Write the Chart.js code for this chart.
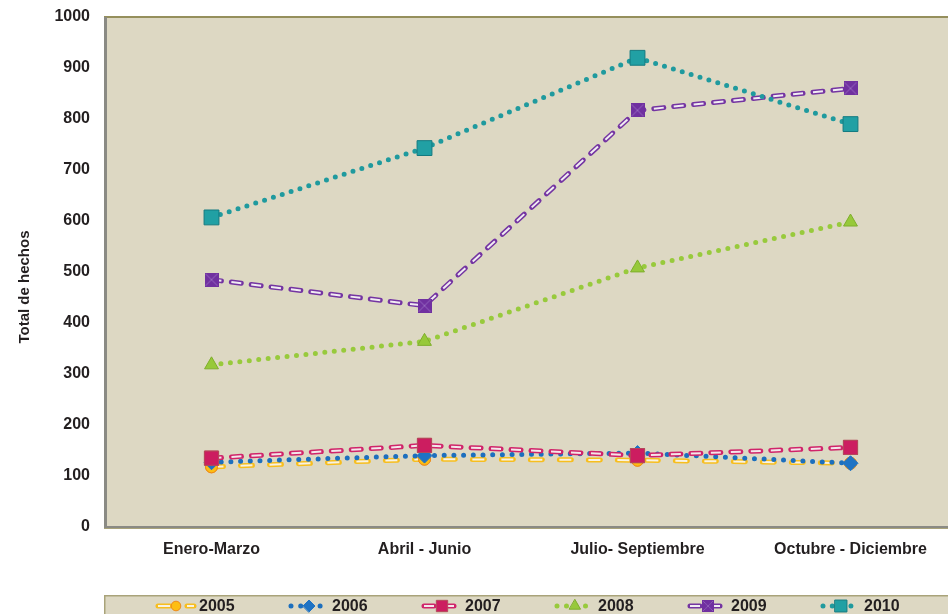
<!DOCTYPE html>
<html>
<head>
<meta charset="utf-8">
<title>Total de hechos por trimestre</title>
<script src="https://cdn.jsdelivr.net/npm/chart.js@4/dist/chart.umd.min.js"></script>
<style>
  html, body { margin: 0; padding: 0; background: #fff; overflow: hidden; }
  #wrap { position: relative; width: 970px; height: 614px; }
</style>
</head>
<body>
<div id="wrap"><canvas id="chart" width="970" height="614"></canvas></div>
<script>
const categories = ['Enero-Marzo', 'Abril - Junio', 'Julio- Septiembre', 'Octubre - Diciembre'];
const years = ['2005', '2006', '2007', '2008', '2009', '2010'];

const hechos2005 = [118, 133, 131, 125];
const hechos2006 = [127, 140, 145, 125];
const hechos2007 = [135, 160, 140, 156];
const hechos2008 = [318, 364, 508, 598];
const hechos2009 = [485, 434, 817, 860];
const hechos2010 = [607, 743, 920, 790];

const yMin = 0;
const yMax = 1000;
const yStep = 100;

const FONT = "'Liberation Sans', Arial, sans-serif";
const PLOT_BG = '#DDD8C3';

// purple square with an X through it
function crossedSquare(size, fill, line) {
  const c = document.createElement('canvas');
  c.width = size; c.height = size;
  const g = c.getContext('2d');
  g.fillStyle = fill;
  g.fillRect(0, 0, size, size);
  g.strokeStyle = line;
  g.lineWidth = 1;
  g.beginPath();
  g.moveTo(1, 1); g.lineTo(size - 1, size - 1);
  g.moveTo(size - 1, 1); g.lineTo(1, size - 1);
  g.stroke();
  return c;
}
const mark2009 = crossedSquare(14, '#7030A0', '#9466BE');

const datasets = [
  {
    label: years[0], data: hechos2005, order: 6,
    borderColor: '#F7BE1E', borderWidth: 5, borderDash: [12, 17], borderCapStyle: 'round',
    innerColor: '#F7F2E4',
    pointStyle: 'circle', pointRadius: 6, pointBackgroundColor: '#FDBE12', pointBorderColor: '#EE8A1A', pointBorderWidth: 1
  },
  {
    label: years[1], data: hechos2006, order: 5,
    borderColor: '#1C6FBE', borderWidth: 5, borderDash: [0, 9.7], borderCapStyle: 'round',
    pointStyle: 'rectRot', pointRadius: 7.5, pointBackgroundColor: '#1F73C4', pointBorderColor: '#1F73C4', pointBorderWidth: 1
  },
  {
    label: years[2], data: hechos2007, order: 4,
    borderColor: '#D0246A', borderWidth: 5, borderDash: [10, 10], borderCapStyle: 'round',
    innerColor: '#F4E6EA',
    pointStyle: 'rect', pointRadius: 10, pointBackgroundColor: '#CC1D60', pointBorderColor: '#B5485A', pointBorderWidth: 1
  },
  {
    label: years[3], data: hechos2008, order: 3,
    borderColor: '#98CA3C', borderWidth: 5, borderDash: [0, 9.5], borderCapStyle: 'round',
    pointStyle: 'triangle', pointRadius: 8, pointBackgroundColor: '#97C93A', pointBorderColor: '#7FAE2C', pointBorderWidth: 1
  },
  {
    label: years[4], data: hechos2009, order: 2,
    borderColor: '#7434A2', borderWidth: 5, borderDash: [10, 10], borderCapStyle: 'round',
    innerColor: '#F1ECF3',
    pointStyle: mark2009, pointRadius: 7, pointBackgroundColor: '#7030A0'
  },
  {
    label: years[5], data: hechos2010, order: 1,
    borderColor: '#1F9A9E', borderWidth: 5, borderDash: [0, 9.3], borderCapStyle: 'round',
    pointStyle: 'rect', pointRadius: 10.5, pointBackgroundColor: '#21A0A4', pointBorderColor: '#137A80', pointBorderWidth: 1
  }
];

datasets.forEach(ds => {
  ds.fill = false;
  ds.tension = 0;
  ds.pointHoverRadius = ds.pointRadius;
});

// shaded plot area with its frame
const plotFrame = {
  id: 'plotFrame',
  beforeDatasetsDraw(chart) {
    const { ctx, chartArea: a } = chart;
    ctx.save();
    ctx.fillStyle = PLOT_BG;
    ctx.fillRect(a.left, a.top, a.right - a.left, a.bottom - a.top);
    ctx.fillStyle = '#958F5C';
    ctx.fillRect(a.left - 1, a.top - 1, a.right - a.left + 2, 2);
    ctx.fillStyle = '#8A8A84';
    ctx.fillRect(a.left - 1, a.top, 3, a.bottom - a.top + 1);
    ctx.fillRect(a.left - 1, a.bottom - 1, a.right - a.left + 2, 2);
    ctx.fillStyle = '#A9A37A';
    ctx.fillRect(a.left - 1, a.bottom + 1, a.right - a.left + 2, 1);
    ctx.restore();
  }
};

// hollow dashes: thin light stroke inside the coloured dash, then markers back on top
const hollowDash = {
  id: 'hollowDash',
  afterDatasetDraw(chart, args) {
    const ds = chart.data.datasets[args.index];
    if (!ds.innerColor) return;
    const { ctx, chartArea: a } = chart;
    const pts = args.meta.data;
    ctx.save();
    ctx.beginPath();
    ctx.rect(a.left, a.top, a.right - a.left, a.bottom - a.top);
    ctx.clip();
    ctx.beginPath();
    pts.forEach((p, i) => (i ? ctx.lineTo(p.x, p.y) : ctx.moveTo(p.x, p.y)));
    ctx.setLineDash(ds.borderDash);
    ctx.lineDashOffset = 0;
    ctx.lineCap = 'butt';
    ctx.lineWidth = 2;
    ctx.strokeStyle = ds.innerColor;
    ctx.stroke();
    ctx.restore();
    pts.forEach(p => p.draw(ctx, a));
  }
};

function drawSample(ctx, ds, cx, cy, half, markerScale) {
  ctx.save();
  ctx.beginPath();
  ctx.moveTo(cx - half, cy);
  ctx.lineTo(cx + half, cy);
  ctx.setLineDash(ds.borderDash);
  ctx.lineCap = ds.borderCapStyle;
  ctx.lineWidth = ds.borderWidth;
  ctx.strokeStyle = ds.borderColor;
  ctx.stroke();
  if (ds.innerColor) {
    ctx.lineCap = 'butt';
    ctx.lineWidth = 2;
    ctx.strokeStyle = ds.innerColor;
    ctx.stroke();
  }
  ctx.setLineDash([]);
  if (typeof ds.pointStyle === 'string') {
    ctx.fillStyle = ds.pointBackgroundColor;
    ctx.strokeStyle = ds.pointBorderColor;
    ctx.lineWidth = ds.pointBorderWidth;
    Chart.helpers.drawPoint(ctx, {
      pointStyle: ds.pointStyle,
      radius: ds.pointRadius * markerScale,
      rotation: 0,
      borderWidth: ds.pointBorderWidth
    }, cx, cy);
  } else {
    const s = ds.pointStyle.width * markerScale;
    ctx.drawImage(ds.pointStyle, cx - s / 2, cy - s / 2, s, s);
  }
  ctx.restore();
}

// boxed legend along the bottom edge, plus the rotated y title
const bottomLegend = {
  id: 'bottomLegend',
  afterDraw(chart) {
    const { ctx, chartArea: a } = chart;
    const boxTop = 595;
    ctx.save();
    ctx.fillStyle = PLOT_BG;
    ctx.fillRect(a.left - 1, boxTop, chart.width, chart.height - boxTop);
    ctx.fillStyle = '#A9A37A';
    ctx.fillRect(a.left - 1, boxTop, chart.width, 1.5);
    ctx.fillRect(a.left - 1, boxTop, 1.5, chart.height - boxTop);

    ctx.font = 'bold 16px ' + FONT;
    ctx.textBaseline = 'middle';
    ctx.textAlign = 'left';
    const cy = 606;
    chart.data.datasets.forEach((ds, i) => {
      const textX = 199 + i * 133;
      drawSample(ctx, ds, textX - 23, cy, 18, 0.8);
      ctx.fillStyle = '#231F20';
      ctx.fillText(ds.label, textX, cy + 1);
    });

    ctx.translate(25, 287);
    ctx.rotate(-Math.PI / 2);
    ctx.textAlign = 'center';
    ctx.font = 'bold 15px ' + FONT;
    ctx.fillStyle = '#231F20';
    ctx.fillText('Total de hechos', 0, 0);
    ctx.restore();
  }
};

new Chart(document.getElementById('chart'), {
  type: 'line',
  data: { labels: categories, datasets },
  options: {
    responsive: false,
    animation: false,
    devicePixelRatio: 1,
    layout: { padding: { top: 17, right: 13, bottom: 27, left: 0 } },
    plugins: {
      legend: { display: false },
      tooltip: { enabled: false }
    },
    scales: {
      x: {
        type: 'category',
        offset: true,
        grid: { display: false, drawTicks: false },
        border: { display: false },
        ticks: { padding: 13, color: '#231F20', font: { family: FONT, size: 16, weight: 'bold' }, maxRotation: 0, autoSkip: false },
        afterFit(scale) {
          scale.height = 60;
          scale.paddingLeft = 0;
          scale.paddingRight = 0;
        }
      },
      y: {
        min: yMin,
        max: yMax,
        grid: { display: false, drawTicks: false },
        border: { display: false },
        ticks: {
          stepSize: yStep, padding: 15, color: '#231F20',
          font: { family: FONT, size: 16, weight: 'bold' },
          callback: v => String(v)
        },
        afterFit(scale) {
          scale.width = 105;
          scale.paddingTop = 0;
          scale.paddingBottom = 0;
        }
      }
    }
  },
  plugins: [plotFrame, hollowDash, bottomLegend]
});
</script>
</body>
</html>
